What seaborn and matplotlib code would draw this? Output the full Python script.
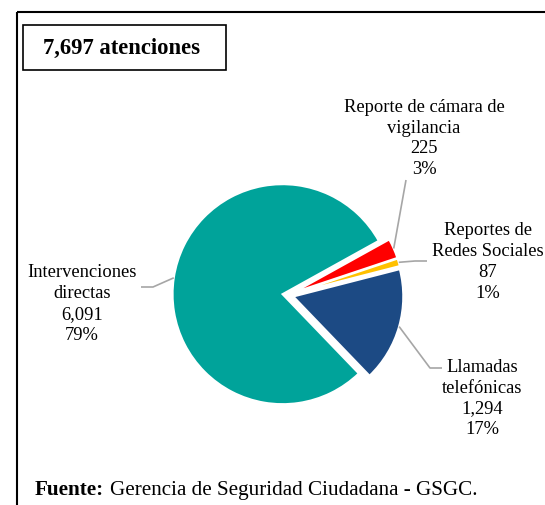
import numpy as np
import matplotlib
matplotlib.use("Agg")
import matplotlib.pyplot as plt
from matplotlib.patches import Rectangle
import seaborn as sns

# data
categories = ["Intervenciones\ndirectas", "Llamadas\ntelefónicas",
              "Reportes de\nRedes Sociales", "Reporte de cámara de\nvigilancia"]
values = [6091, 1294, 87, 225]
colors = ["#00A39A", "#1C4A84", "#FFC000", "#FF0000"]
total_label = "7,697 atenciones"

sns.set_theme(style="white")
plt.rcParams['font.family'] = ['Liberation Serif', 'DejaVu Serif']

W, H = 545, 506
R = 110
fig = plt.figure(figsize=(W / 100, H / 100), dpi=100)
ax = fig.add_axes([0, 0, 1, 1])

# pixel-like coordinates, y pointing down; explode is in data units here
wedges, _ = ax.pie(values, colors=sns.color_palette(colors), startangle=-29,
                   counterclock=False, radius=R, center=(288, 296),
                   explode=[0.05 * R] * 4, frame=True,
                   wedgeprops=dict(edgecolor="white", linewidth=1.5))
ax.set_xlim(0, W)
ax.set_ylim(H, 0)
ax.set_aspect("equal")
ax.axis("off")

total = sum(values)
# label block centre and leader elbows for each slice
label_pos = [(82, 304), (482, 398.5), (488, 262), (424, 138.5)]
elbows = [[(153, 288), (141, 288)],
          [(430, 369), (442, 369)],
          [(415, 262), (427, 262)],
          [(406, 181)]]

for w, name, v, pos, elb in zip(wedges, categories, values, label_pos, elbows):
    mid = np.deg2rad((w.theta1 + w.theta2) / 2)
    cx, cy = w.center
    start = (cx + w.r * np.cos(mid), cy + w.r * np.sin(mid))
    pts = [start] + elb
    ax.plot([p[0] for p in pts], [p[1] for p in pts], color="#A6A6A6", lw=1.2,
            solid_capstyle="butt")
    pct = 100 * v / total
    ax.text(pos[0], pos[1], f"{name}\n{v:,}\n{pct:.0f}%", ha="center", va="center",
            fontsize=13.3, color="black", linespacing=1.3)

# outer frame (runs off right and bottom edge)
ax.add_patch(Rectangle((16.5, 12.5), 700, 700, fill=False, edgecolor="black",
                       lw=1.5, clip_on=True))
# total box
ax.add_patch(Rectangle((23, 26), 203, 45, facecolor="white", edgecolor="black", lw=1.2))
ax.text(121, 48.5, total_label, ha="center", va="center", fontsize=16.3,
        fontweight="bold", color="black")

# source line
src = ax.text(35, 490, "Fuente:", ha="left", va="center", fontsize=15.2,
              fontweight="bold", color="black")
ax.annotate("Gerencia de Seguridad Ciudadana - GSGC.", xy=(1, 0),
            xycoords=src, xytext=(4, 0), textcoords="offset points",
            ha="left", va="bottom", fontsize=15.2, color="black")

fig.savefig("out.png", dpi=100)
